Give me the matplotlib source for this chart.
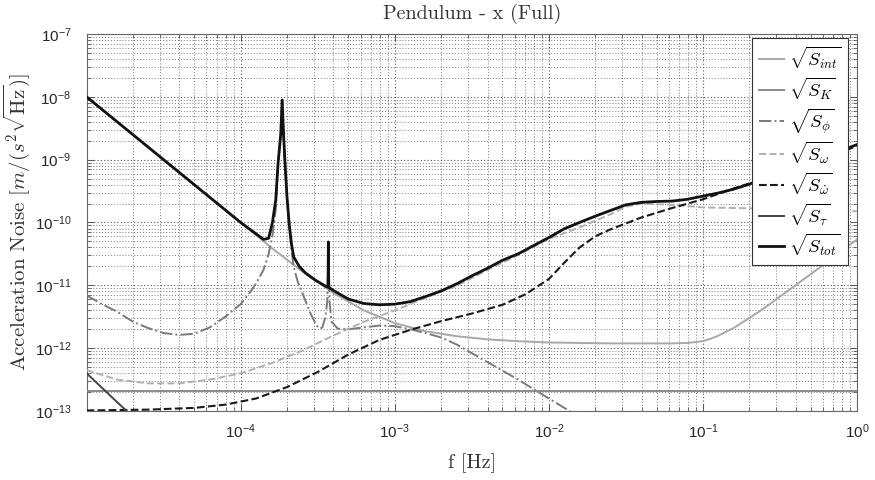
import matplotlib
matplotlib.use("Agg")
import matplotlib.pyplot as plt
from matplotlib.font_manager import FontProperties
from matplotlib.ticker import FixedLocator, LogLocator, NullFormatter, FuncFormatter
import numpy as np

plt.rcParams['font.family'] = ['Liberation Sans', 'DejaVu Sans']
plt.rcParams['mathtext.fontset'] = 'custom'
plt.rcParams['mathtext.rm'] = 'Liberation Sans'
plt.rcParams['mathtext.it'] = 'Liberation Sans:italic'

# ---- noise contributions (frequency in Hz, amplitude in m/(s^2 sqrt(Hz))) ----
f_int = [1.0e-5, 3.16e-5, 1.0e-4, 1.58e-4, 2.51e-4, 3.98e-4, 6.31e-4, 1.0e-3, 1.58e-3,
         2.51e-3, 3.98e-3, 6.31e-3, 1.0e-2, 2.51e-2, 6.31e-2, 7.94e-2, 0.1, 0.112, 0.126,
         0.141, 0.158, 0.2, 0.251, 0.316, 0.398, 0.501, 0.631, 0.794, 1.0]
s_int = [1.0e-8, 1.0e-9, 1.0e-10, 3.98e-11, 1.66e-11, 7.59e-12, 3.98e-12, 2.51e-12, 1.86e-12,
         1.55e-12, 1.38e-12, 1.29e-12, 1.23e-12, 1.19e-12, 1.19e-12, 1.21e-12, 1.29e-12, 1.41e-12, 1.58e-12,
         1.82e-12, 2.09e-12, 3.02e-12, 4.37e-12, 6.61e-12, 1.0e-11, 1.51e-11, 2.29e-11, 3.55e-11, 5.37e-11]

f_K = [1.0e-5, 1.0]
s_K = [2.07e-13, 2.07e-13]

f_phi = [1.0e-5, 1.26e-5, 1.58e-5, 2.0e-5, 2.51e-5, 3.16e-5, 3.98e-5, 5.01e-5, 6.31e-5, 7.94e-5,
         1.0e-4, 1.12e-4, 1.26e-4, 1.41e-4, 1.52e-4, 1.61e-4, 1.69e-4, 1.75e-4, 1.82e-4, 1.86e-4,
         1.90e-4, 1.94e-4, 2.0e-4, 2.07e-4, 2.14e-4, 2.21e-4, 2.34e-4, 2.57e-4, 2.84e-4, 3.02e-4,
         3.14e-4, 3.28e-4, 3.39e-4, 3.55e-4, 3.65e-4, 3.71e-4, 3.77e-4, 3.89e-4, 4.27e-4, 5.01e-4,
         6.31e-4, 7.94e-4, 1.0e-3, 1.26e-3, 1.58e-3, 2.0e-3, 2.51e-3, 3.16e-3, 3.98e-3, 5.01e-3,
         6.31e-3, 7.94e-3, 1.0e-2, 1.26e-2, 1.58e-2]
s_phi = [6.92e-12, 5.01e-12, 3.80e-12, 2.63e-12, 2.09e-12, 1.74e-12, 1.62e-12, 1.70e-12, 2.14e-12, 3.16e-12,
         5.01e-12, 7.08e-12, 1.07e-11, 1.78e-11, 3.16e-11, 6.31e-11, 1.6e-10, 8.51e-10, 2.40e-9, 8.51e-9,
         2.40e-9, 8.51e-10, 2.40e-10, 7.94e-11, 3.55e-11, 1.95e-11, 1.17e-11, 6.61e-12, 3.55e-12, 2.63e-12,
         2.24e-12, 2.04e-12, 2.14e-12, 3.16e-12, 5.62e-12, 4.68e-11, 5.62e-12, 2.63e-12, 2.04e-12, 2.0e-12,
         2.14e-12, 2.29e-12, 2.24e-12, 2.0e-12, 1.74e-12, 1.48e-12, 1.15e-12, 8.32e-13, 6.03e-13, 4.37e-13,
         3.16e-13, 2.24e-13, 1.58e-13, 1.12e-13, 7.94e-14]

f_w = [1.0e-5, 1.58e-5, 2.51e-5, 3.98e-5, 6.31e-5, 1.0e-4, 1.58e-4, 2.51e-4, 3.98e-4, 6.31e-4,
       1.0e-3, 1.58e-3, 2.51e-3, 3.98e-3, 6.31e-3, 1.0e-2, 1.58e-2, 2.51e-2, 3.16e-2, 3.98e-2,
       6.31e-2, 0.1, 0.158, 0.251, 0.501, 1.0]
s_w = [4.47e-13, 3.16e-13, 2.75e-13, 2.75e-13, 3.16e-13, 3.98e-13, 5.75e-13, 9.12e-13, 1.58e-12, 2.63e-12,
       3.98e-12, 6.31e-12, 9.77e-12, 1.74e-11, 3.02e-11, 5.50e-11, 8.32e-11, 1.35e-10, 1.78e-10, 2.0e-10,
       1.91e-10, 1.74e-10, 1.70e-10, 1.66e-10, 1.58e-10, 1.51e-10]

f_wdot = [1.0e-5, 2.51e-5, 5.01e-5, 7.94e-5, 1.26e-4, 2.0e-4, 3.16e-4, 5.01e-4, 7.94e-4, 1.26e-3,
          2.0e-3, 3.16e-3, 5.01e-3, 7.08e-3, 1.0e-2, 1.26e-2, 1.58e-2, 2.0e-2, 2.51e-2, 3.98e-2,
          6.31e-2, 0.1, 0.158, 0.251, 0.398, 0.631, 1.0]
s_wdot = [1.02e-13, 1.05e-13, 1.12e-13, 1.26e-13, 1.58e-13, 2.40e-13, 4.17e-13, 7.94e-13, 1.35e-12, 1.95e-12,
          2.69e-12, 3.55e-12, 4.90e-12, 7.24e-12, 1.26e-11, 2.29e-11, 3.98e-11, 6.03e-11, 7.76e-11, 1.20e-10,
          1.70e-10, 2.34e-10, 3.47e-10, 5.01e-10, 6.76e-10, 1.05e-9, 1.66e-9]

f_tau = [1.0e-5, 1.26e-5, 1.58e-5, 2.0e-5]
s_tau = [3.98e-13, 2.34e-13, 1.38e-13, 8.1e-14]

f_tot = [1.0e-5, 3.16e-5, 1.0e-4, 1.41e-4, 1.52e-4, 1.61e-4, 1.69e-4, 1.75e-4, 1.82e-4, 1.86e-4,
         1.90e-4, 1.94e-4, 2.0e-4, 2.07e-4, 2.14e-4, 2.21e-4, 2.40e-4, 2.63e-4, 3.02e-4, 3.59e-4,
         3.69e-4, 3.71e-4, 3.73e-4, 3.98e-4, 5.01e-4, 6.31e-4, 7.94e-4, 1.0e-3, 1.26e-3, 1.58e-3,
         2.0e-3, 2.51e-3, 3.16e-3, 3.98e-3, 5.01e-3, 6.31e-3, 7.94e-3, 1.0e-2, 1.26e-2, 1.58e-2,
         2.0e-2, 2.51e-2, 3.16e-2, 3.98e-2, 5.01e-2, 6.31e-2, 7.94e-2, 0.1, 0.126, 0.158,
         0.2, 0.251, 0.398, 0.631, 1.0]
s_tot = [1.0e-8, 1.0e-9, 1.0e-10, 5.37e-11, 5.62e-11, 1.02e-10, 2.29e-10, 8.91e-10, 2.51e-9, 8.91e-9,
         2.51e-9, 8.91e-10, 2.51e-10, 8.91e-11, 4.47e-11, 2.82e-11, 2.0e-11, 1.58e-11, 1.23e-11, 9.55e-12,
         9.4e-12, 4.9e-11, 9.33e-12, 8.32e-12, 6.03e-12, 5.13e-12, 4.90e-12, 5.01e-12, 5.50e-12, 6.61e-12,
         8.13e-12, 1.05e-11, 1.41e-11, 1.86e-11, 2.51e-11, 3.16e-11, 4.27e-11, 5.75e-11, 7.94e-11, 1.0e-10,
         1.26e-10, 1.55e-10, 1.91e-10, 2.09e-10, 2.16e-10, 2.19e-10, 2.34e-10, 2.63e-10, 2.95e-10, 3.39e-10,
         4.07e-10, 5.13e-10, 7.41e-10, 1.12e-9, 1.74e-9]

labels = [r'$\sqrt{S_{int}}$', r'$\sqrt{S_K}$', r'$\sqrt{S_\phi}$', r'$\sqrt{S_\omega}$',
          r'$\sqrt{S_{\dot{\omega}}}$', r'$\sqrt{S_\tau}$', r'$\sqrt{S_{tot}}$']

x_ticks = [1e-4, 1e-3, 1e-2, 1e-1, 1e0]
y_ticks = [1e-13, 1e-12, 1e-11, 1e-10, 1e-9, 1e-8, 1e-7]

fig = plt.figure(figsize=(8.75, 4.8), dpi=100)
ax = fig.add_axes([0.0989, 0.1438, 0.8806, 0.7854])
ax.set_xscale('log')
ax.set_yscale('log')

series = [
    (f_int, s_int, dict(color='#a8a8a8', lw=1.4, ls='-')),
    (f_K, s_K, dict(color='#8a8a8a', lw=1.4, ls='-')),
    (f_phi, s_phi, dict(color='#7a7a7a', lw=1.4, ls='-.')),
    (f_w, s_w, dict(color='#b0b0b0', lw=1.4, ls='--')),
    (f_wdot, s_wdot, dict(color='#1a1a1a', lw=1.5, ls='--')),
    (f_tau, s_tau, dict(color='#444444', lw=1.4, ls='-')),
    (f_tot, s_tot, dict(color='#111111', lw=2.0, ls='-')),
]
for (fx, sy, st), lab in zip(series, labels):
    ax.plot(fx, sy, label=lab, zorder=3, **st)

ax.set_xlim(1.0e-5, 1.0)
ax.set_ylim(1e-13, 1e-7)

def sci_label(v, pos):
    e = int(round(np.log10(v)))
    return r'$\mathdefault{10^{%d}}$' % e

ax.xaxis.set_major_locator(FixedLocator(x_ticks))
ax.yaxis.set_major_locator(FixedLocator(y_ticks))
ax.xaxis.set_major_formatter(FuncFormatter(sci_label))
ax.yaxis.set_major_formatter(FuncFormatter(sci_label))
ax.xaxis.set_minor_locator(LogLocator(base=10, subs=np.arange(2, 10), numticks=20))
ax.yaxis.set_minor_locator(LogLocator(base=10, subs=np.arange(2, 10), numticks=20))
ax.xaxis.set_minor_formatter(NullFormatter())
ax.yaxis.set_minor_formatter(NullFormatter())

ax.tick_params(which='both', direction='in', top=True, right=True, colors='#555555',
               labelcolor='#262626', labelsize=11)
ax.tick_params(which='major', length=5, width=0.7)
ax.tick_params(which='minor', length=3, width=0.6)
ax.tick_params(axis='x', pad=8)
ax.tick_params(axis='y', pad=11)

ax.grid(True, which='major', ls=(0, (1, 2)), color='#5a5a5a', lw=0.8)
ax.grid(True, which='minor', ls=(0, (1, 2)), color='#7a7a7a', lw=0.7)
ax.set_axisbelow(True)
for sp in ax.spines.values():
    sp.set_color('#666666')
    sp.set_linewidth(0.8)

ax.set_title('Pendulum - x (Full)', family=['cmr10'], fontsize=14.5, color='#333333', pad=11)
ax.set_xlabel('f [Hz]', family=['cmr10'], fontsize=14.5, color='#333333', labelpad=9)
ax.set_ylabel(r'Acceleration Noise $[m/(s^2\sqrt{\mathrm{Hz}})]$', family=['cmr10'],
              math_fontfamily='cm', fontsize=15, color='#333333', labelpad=2)

leg_font = FontProperties(family='cmr10', size=13.5, math_fontfamily='cm')
leg = ax.legend(loc='upper right', bbox_to_anchor=(0.9883, 0.9894), borderaxespad=0,
                prop=leg_font, handlelength=1.35, handletextpad=0.25, labelspacing=0.22,
                borderpad=0.35, fancybox=False, framealpha=1.0, edgecolor='#333333')
leg.get_frame().set_linewidth(0.8)
leg.set_zorder(5)

fig.savefig('out.png', dpi=100)
